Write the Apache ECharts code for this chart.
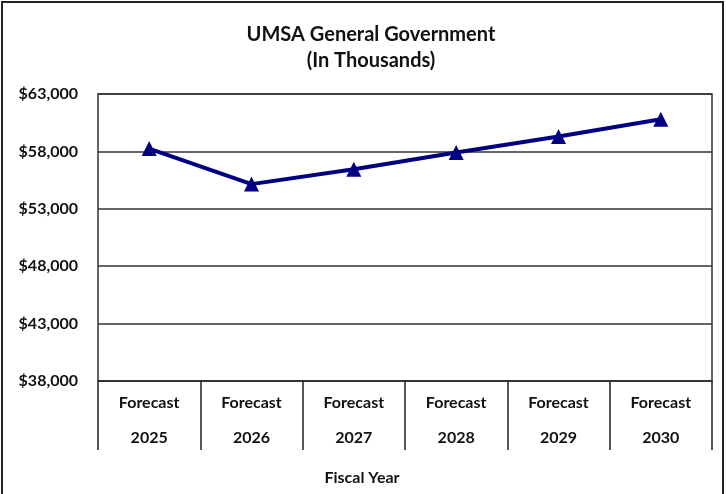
<!DOCTYPE html>
<html>
<head>
<meta charset="utf-8">
<script src="https://cdn.jsdelivr.net/npm/echarts@6/dist/echarts.min.js"></script>
<style>
  html, body { margin: 0; padding: 0; background: #fff; }
  #frame { position: absolute; left: 1px; top: 1px; width: 723px; height: 496px; border: 2px solid #222; box-sizing: border-box; }
  #chart { position: absolute; left: 0; top: 0; width: 726px; height: 494px; }
</style>
</head>
<body>
<div id="frame"></div>
<div id="chart"></div>
<script>
const years = ['2025', '2026', '2027', '2028', '2029', '2030'];
const categories = years.map(y => 'Forecast\n' + y);
const spending = [58250, 55150, 56450, 57900, 59300, 60800];

const font = 'Lato, "Open Sans", sans-serif';
const myChart = echarts.init(document.getElementById('chart'));
myChart.setOption({
  animation: false,
  title: {
    text: 'UMSA General Government\n(In Thousands)',
    left: 366,
    textAlign: 'center',
    top: 17,
    textStyle: { fontFamily: font, fontSize: 20, fontWeight: 'bold', color: '#111', lineHeight: 26 }
  },
  grid: {
    left: 98, right: 14, top: 94, bottom: 113,
    show: true, borderColor: '#333', borderWidth: 1.5
  },
  xAxis: {
    type: 'category',
    data: categories,
    boundaryGap: true,
    name: 'Fiscal Year',
    nameLocation: 'middle',
    nameGap: 89,
    nameTextStyle: { fontFamily: font, fontSize: 16, fontWeight: 'bold', color: '#111', padding: [0, 86, 0, 0] },
    axisLine: { lineStyle: { color: '#333', width: 1.5 } },
    axisTick: { show: true, length: 69, lineStyle: { color: '#222', width: 1.5 } },
    axisLabel: { fontFamily: font, fontSize: 16, fontWeight: 'bold', color: '#111', lineHeight: 35, margin: 4 }
  },
  yAxis: {
    type: 'value',
    min: 38000,
    max: 63000,
    interval: 5000,
    axisLine: { show: false },
    axisTick: { show: false },
    axisLabel: {
      fontFamily: font, fontSize: 16, fontWeight: 'bold', color: '#111', margin: 20,
      formatter: v => '$' + v.toLocaleString('en-US')
    },
    splitLine: { lineStyle: { color: '#333', width: 1.5 } }
  },
  series: [{
    type: 'line',
    data: spending,
    symbol: 'triangle',
    symbolSize: 15,
    itemStyle: { color: '#000080' },
    lineStyle: { color: '#000080', width: 4 }
  }]
});
</script>
</body>
</html>
